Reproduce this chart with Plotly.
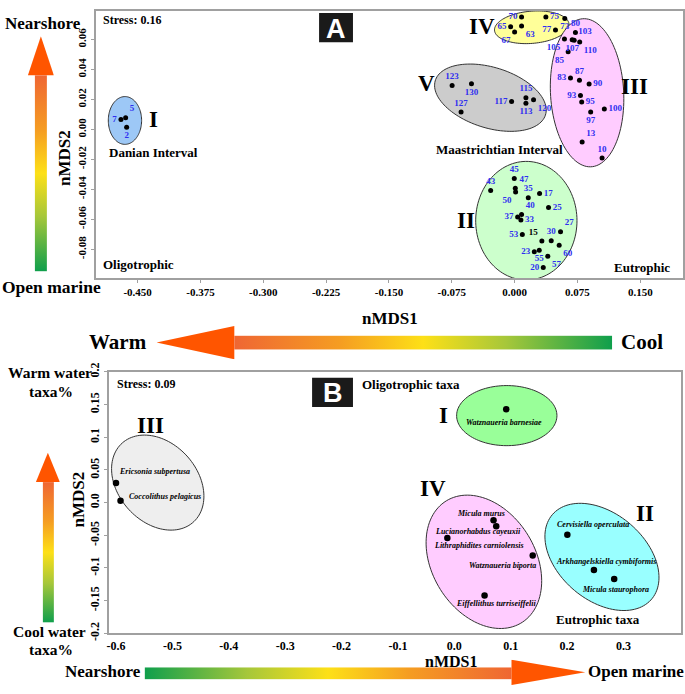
import base64
import numpy as np
import plotly.graph_objects as go

W, H = 685, 694

# ---------------- Panel A data (sample nMDS) ----------------
a_labels = ["7", "5", "2",
            "70", "75", "73", "65", "63", "67", "77",
            "80", "105", "107", "103", "110", "85", "83", "87", "90", "93", "95", "97", "100", "13", "10",
            "123", "130", "127", "117", "115", "113", "120",
            "45", "43", "47", "50", "35", "17", "25", "40", "37", "33", "53", "15", "30", "27", "60",
            "23", "55", "57", "20"]
a_x = [-0.4699, -0.4643, -0.4631,
       0.0083, 0.0373, 0.0599, -0.0048, 0.0083, 0.0000, 0.0488,
       0.0726, 0.0595, 0.0687, 0.0711, 0.0777, 0.0639, 0.0667, 0.0774, 0.0889, 0.0786, 0.0801, 0.0908, 0.1071, 0.0806, 0.1044,
       -0.0746, -0.0515, -0.0639, -0.0036, 0.0135, 0.0135, 0.0226,
       -0.0004, -0.0286, 0.0008, 0.0012, 0.0163, 0.0298, 0.0405, 0.0083, 0.0036, 0.0075, 0.0092, 0.0325, 0.0437, 0.0548, 0.0532,
       0.0235, 0.0294, 0.0396, 0.0342]
a_y = [0.0067, 0.0078, 0.0015,
       0.0751, 0.0751, 0.0740, 0.0686, 0.0690, 0.0651, 0.0664,
       0.0647, 0.0604, 0.0599, 0.0595, 0.0584, 0.0518, 0.0344, 0.0329, 0.0303, 0.0227, 0.0184, 0.0117, 0.0136, -0.0084, -0.0190,
       0.0294, 0.0305, 0.0117, 0.0186, 0.0212, 0.0175, 0.0199,
       -0.0327, -0.0407, -0.0392, -0.0418, -0.0455, -0.0427, -0.0521, -0.0567, -0.0584, -0.0604, -0.0701, -0.0745, -0.0742, -0.0682, -0.0773,
       -0.0816, -0.0807, -0.0846, -0.0922]
a_label_pos = ["middle left", "top right", "bottom center",
               "middle left", "middle right", "bottom center", "middle left", "bottom right", "bottom left", "middle left",
               "top center", "bottom left", "bottom center", "top right", "bottom right", "bottom left", "middle left", "top center",
               "middle right", "middle left", "middle right", "bottom center", "middle right", "top right", "top center",
               "top center", "bottom center", "top center", "middle left", "top center", "bottom center", "bottom right",
               "top center", "top center", "top right", "bottom left", "top center", "middle right", "middle right", "top right",
               "middle left", "middle right", "middle left", "top left", "top center", "top right", "bottom right",
               "middle left", "bottom center", "bottom right", "middle left"]

# groups for panel A: (numeral, centre x, centre y, semi-axis px a, b, angle, fill)
a_groups = [("I", -0.4651, 0.0060, 16.7, 24.5, 0, "#9dc8f6"),
            ("IV", 0.0205, 0.0682, 37.5, 16.5, -5, "#ffff99"),
            ("III", 0.0865, 0.0245, 36.7, 76.0, -3, "#ffccff"),
            ("V", -0.0289, 0.0212, 58.0, 31.0, 18, "#cccccc"),
            ("II", 0.0140, -0.0609, 50.8, 60.8, 0, "#ccffcc")]

# ---------------- Panel B data (taxa nMDS) ----------------
b_taxa = ["Watznaueria barnesiae", "Micula murus", "Lucianorhabdus cayeuxii", "Lithraphidites carniolensis",
          "Watznaueria biporta", "Eiffellithus turriseiffelii", "Cervisiella operculata",
          "Arkhangelskiella cymbiformis", "Micula staurophora", "Ericsonia subpertusa", "Coccolithus pelagicus"]
b_x = [0.092, 0.0695, 0.0743, -0.0124, 0.139, 0.0536, 0.2004, 0.2476, 0.2835, -0.600, -0.592]
b_y = [0.143, -0.027, -0.036, -0.054, -0.081, -0.142, -0.049, -0.103, -0.117, 0.030, 0.003]
b_label_shift = [(-2, 13), (-13, -7), (-18, 5), (32, 8), (-30, 10), (11, 8), (26, -10), (12, -8), (1, 10), (38, -11), (44, -4)]

b_groups = [("I", 0.093, 0.1331, 50.3, 30.8, 0, "#99ff99"),
            ("IV", 0.0524, -0.0906, 73.0, 52.0, 60, "#ffccff"),
            ("II", 0.2618, -0.0831, 66.0, 44.0, 42, "#99ffff"),
            ("III", -0.526, 0.0306, 54.0, 40.0, 50, "#eeeeee")]

# axis geometry (pixels)
A_px = (94, 683, 2, 276)
B_px = (107, 681, 372, 640)
A_xr = [-0.50, 0.201]
A_yr = [-0.0993, 0.0791]
B_xr = [-0.613, 0.402]
B_yr = [-0.2, 0.2]

SERIF = "Liberation Serif"


def px(x):
    return x / W


def py(y):
    return 1 - y / H


def ellipse_path(cx, cy, a, b, ang, sx, sy, n=120):
    t = np.linspace(0, 2 * np.pi, n)
    th = np.radians(ang)
    dx = a * np.cos(t) * np.cos(th) - b * np.sin(t) * np.sin(th)
    dy = a * np.cos(t) * np.sin(th) + b * np.sin(t) * np.cos(th)
    xs = cx + dx / sx
    ys = cy - dy / sy
    return "M " + " L ".join(f"{x:.5f},{y:.5f}" for x, y in zip(xs, ys)) + " Z"


fig = go.Figure()

fig.add_trace(go.Scatter(
    x=a_x, y=a_y, mode="markers+text", text=a_labels,
    textposition=a_label_pos,
    textfont=dict(family=SERIF, size=9, weight="bold",
                  color=["#000000" if l == "15" else "#2f2ff0" for l in a_labels]),
    marker=dict(color="black", size=5),
    xaxis="x", yaxis="y", showlegend=False, cliponaxis=False))

fig.add_trace(go.Scatter(
    x=b_x, y=b_y, mode="markers", marker=dict(color="black", size=6.5),
    xaxis="x2", yaxis="y2", showlegend=False))

shapes = []
annots = []

sxA = (A_px[1] - A_px[0]) / (A_xr[1] - A_xr[0])
syA = (A_px[3] - A_px[2]) / (A_yr[1] - A_yr[0])
sxB = (B_px[1] - B_px[0]) / (B_xr[1] - B_xr[0])
syB = (B_px[3] - B_px[2]) / (B_yr[1] - B_yr[0])

for g in a_groups:
    shapes.append(dict(type="path", xref="x", yref="y", layer="below",
                       path=ellipse_path(g[1], g[2], g[3], g[4], g[5], sxA, syA),
                       fillcolor=g[6], line=dict(color="#333333", width=1)))
for g in b_groups:
    shapes.append(dict(type="path", xref="x2", yref="y2", layer="below",
                       path=ellipse_path(g[1], g[2], g[3], g[4], g[5], sxB, syB),
                       fillcolor=g[6], line=dict(color="#333333", width=1)))


def txt(s, x, y, size, anchor="center", angle=0, color="black", italic=False, family=SERIF):
    annots.append(dict(text=s, x=px(x), y=py(y), xref="paper", yref="paper", showarrow=False,
                       xanchor=anchor, yanchor="middle", textangle=angle,
                       font=dict(family=family, size=size, color=color, weight="bold",
                                 style="italic" if italic else "normal")))


# Panel A texts
txt("Stress: 0.16", 99, 11, 12, anchor="left")
txt("Danian Interval", 152, 147, 13)
txt("Maastrichtian Interval", 499, 144, 13)
txt("Oligotrophic", 99, 262, 13, anchor="left")
txt("Eutrophic", 642, 265, 13)
for s, x, y in [("IV", 481, 18), ("III", 634, 79), ("V", 426, 76), ("II", 465, 217), ("I", 152, 113)]:
    txt(s, x, y, 23)
txt("nMDS2", 62, 153, 17, angle=-90)
txt("nMDS1", 389, 317, 17)
txt("Nearshore", 41, 15, 17)
txt("Open marine", 50, 285, 17.5)
txt("Warm", 116, 341, 21)
txt("Cool", 642, 341, 21)
shapes.append(dict(type="rect", xref="paper", yref="paper", x0=px(318), x1=px(352), y0=py(34), y1=py(4),
                   fillcolor="#1a1a1a", line=dict(width=0)))
txt("A", 335, 20, 27, color="white", family="Liberation Sans")

# Panel B texts
txt("Stress: 0.09", 113, 384, 12, anchor="left")
shapes.append(dict(type="rect", xref="paper", yref="paper", x0=px(311), x1=px(352), y0=py(408), y1=py(378),
                   fillcolor="#1a1a1a", line=dict(width=0)))
txt("B", 331.5, 394, 27, color="white", family="Liberation Sans")
txt("Oligotrophic taxa", 359, 385, 13, anchor="left")
txt("Eutrophic taxa", 598, 626, 13)
for s, x, y in [("I", 443, 417), ("IV", 432, 492), ("II", 645, 517), ("III", 149, 427)]:
    txt(s, x, y, 23)
txt("nMDS2", 77, 503, 17, angle=-90)
txt("nMDS1", 450, 669, 16)
txt("Warm water", 48, 373, 15.5)
txt("taxa%", 49, 392, 15.5)
txt("Cool water", 48, 638, 15.5)
txt("taxa%", 49, 657, 15.5)
txt("Nearshore", 101, 679, 17)
txt("Open marine", 636, 679, 17)

for name, x, y, (dx, dy) in zip(b_taxa, b_x, b_y, b_label_shift):
    annots.append(dict(text=name, x=x, y=y, xref="x2", yref="y2", showarrow=False,
                       xshift=dx, yshift=-dy, xanchor="center", yanchor="middle",
                       font=dict(family=SERIF, size=8, color="black", weight="bold", style="italic")))

# ---------------- gradient arrows as SVG images ----------------
STOPS_RG = [(0, "#ef6633"), (0.28, "#f59d22"), (0.5, "#fde017"), (0.72, "#a6c73a"), (1, "#0f9f4c")]


def grad(stops, horiz):
    x2, y2 = ("1", "0") if horiz else ("0", "1")
    st = "".join(f'<stop offset="{o}" stop-color="{c}"/>' for o, c in stops)
    return f'<linearGradient id="g" x1="0" y1="0" x2="{x2}" y2="{y2}">{st}</linearGradient>'


def svg_img(body, w, h, x, y):
    svg = (f'<svg xmlns="http://www.w3.org/2000/svg" width="{w}" height="{h}" viewBox="0 0 {w} {h}" '
           f'preserveAspectRatio="none">{body}</svg>')
    src = "data:image/svg+xml;base64," + base64.b64encode(svg.encode()).decode()
    return dict(source=src, xref="paper", yref="paper", x=px(x), y=py(y), sizex=w / W, sizey=h / H,
                xanchor="left", yanchor="top", sizing="stretch", layer="above")


HEAD = "#ff5500"
images = []
# vertical arrow A (up)
images.append(svg_img(f'<defs>{grad(STOPS_RG, False)}</defs>'
                      f'<polygon points="0,40 13,0 26,40" fill="{HEAD}"/>'
                      f'<rect x="7" y="40" width="12" height="201" fill="url(#g)"/>', 26, 241, 26, 28))
# horizontal arrow A (left)
images.append(svg_img(f'<defs>{grad(STOPS_RG, True)}</defs>'
                      f'<polygon points="0,17 78,0 78,34" fill="{HEAD}"/>'
                      f'<rect x="78" y="10" width="379" height="14" fill="url(#g)"/>', 457, 34, 155, 325))
# vertical arrow B (up)
images.append(svg_img(f'<defs>{grad(STOPS_RG, False)}</defs>'
                      f'<polygon points="0,30 12,0 24,30" fill="{HEAD}"/>'
                      f'<rect x="7" y="30" width="11" height="144" fill="url(#g)"/>', 24, 174, 34, 455))
# horizontal arrow B (right)
STOPS_GR = [(1 - o, c) for o, c in reversed(STOPS_RG)]
images.append(svg_img(f'<defs>{grad(STOPS_GR, True)}</defs>'
                      f'<rect x="0" y="8" width="368" height="12" fill="url(#g)"/>'
                      f'<polygon points="368,0 442,13 368,26" fill="{HEAD}"/>', 442, 26, 143, 667))

axis_common = dict(showgrid=False, zeroline=False, showline=True, mirror=True, linecolor="#a0a0a0",
                   linewidth=2, ticks="outside", ticklen=3, tickcolor="#a0a0a0",
                   tickfont=dict(family=SERIF, size=11, color="black", weight="bold"))

a_xt = [-0.45, -0.375, -0.3, -0.225, -0.15, -0.075, 0.0, 0.075, 0.15]
a_yt = [-0.08, -0.06, -0.04, -0.02, 0.0, 0.02, 0.04, 0.06]
b_xt = [-0.6, -0.5, -0.4, -0.3, -0.2, -0.1, 0.0, 0.1, 0.2, 0.3]
b_yt = [-0.2, -0.15, -0.1, -0.05, 0.0, 0.05, 0.1, 0.15, 0.2]
b_yt_text = ["-0.2", "-0.15", "-0.1", "-0.05", "0.0", "0.05", "0.1", "0.15", "0.2"]

fig.update_layout(
    width=W, height=H, autosize=False, margin=dict(l=0, r=0, t=0, b=0),
    paper_bgcolor="white", plot_bgcolor="white",
    xaxis=dict(domain=[px(A_px[0]), px(A_px[1])], range=A_xr, anchor="y",
               tickvals=a_xt, ticktext=[f"{v:.3f}" for v in a_xt], **axis_common),
    yaxis=dict(domain=[py(A_px[3]), py(A_px[2])], range=A_yr, anchor="x", tickangle=-90,
               tickvals=a_yt, ticktext=[f"{v:.2f}" for v in a_yt], **axis_common),
    xaxis2=dict(domain=[px(B_px[0]), px(B_px[1])], range=B_xr, anchor="y2",
                tickvals=b_xt, ticktext=[f"{v:.1f}" for v in b_xt], **axis_common),
    yaxis2=dict(domain=[py(B_px[3]), py(B_px[2])], range=B_yr, anchor="x2", tickangle=-90,
                tickvals=b_yt, ticktext=b_yt_text, **axis_common),
    shapes=shapes, annotations=annots, images=images,
)
fig.update_xaxes(selector=dict(anchor="y2"), tickfont_size=12, ticks="", ticklen=0)
fig.update_yaxes(selector=dict(anchor="x2"), tickfont_size=12)

fig.write_html("out.html", config={"displayModeBar": False},
               post_script="document.body.style.margin='0px';document.body.style.overflow='hidden';")
